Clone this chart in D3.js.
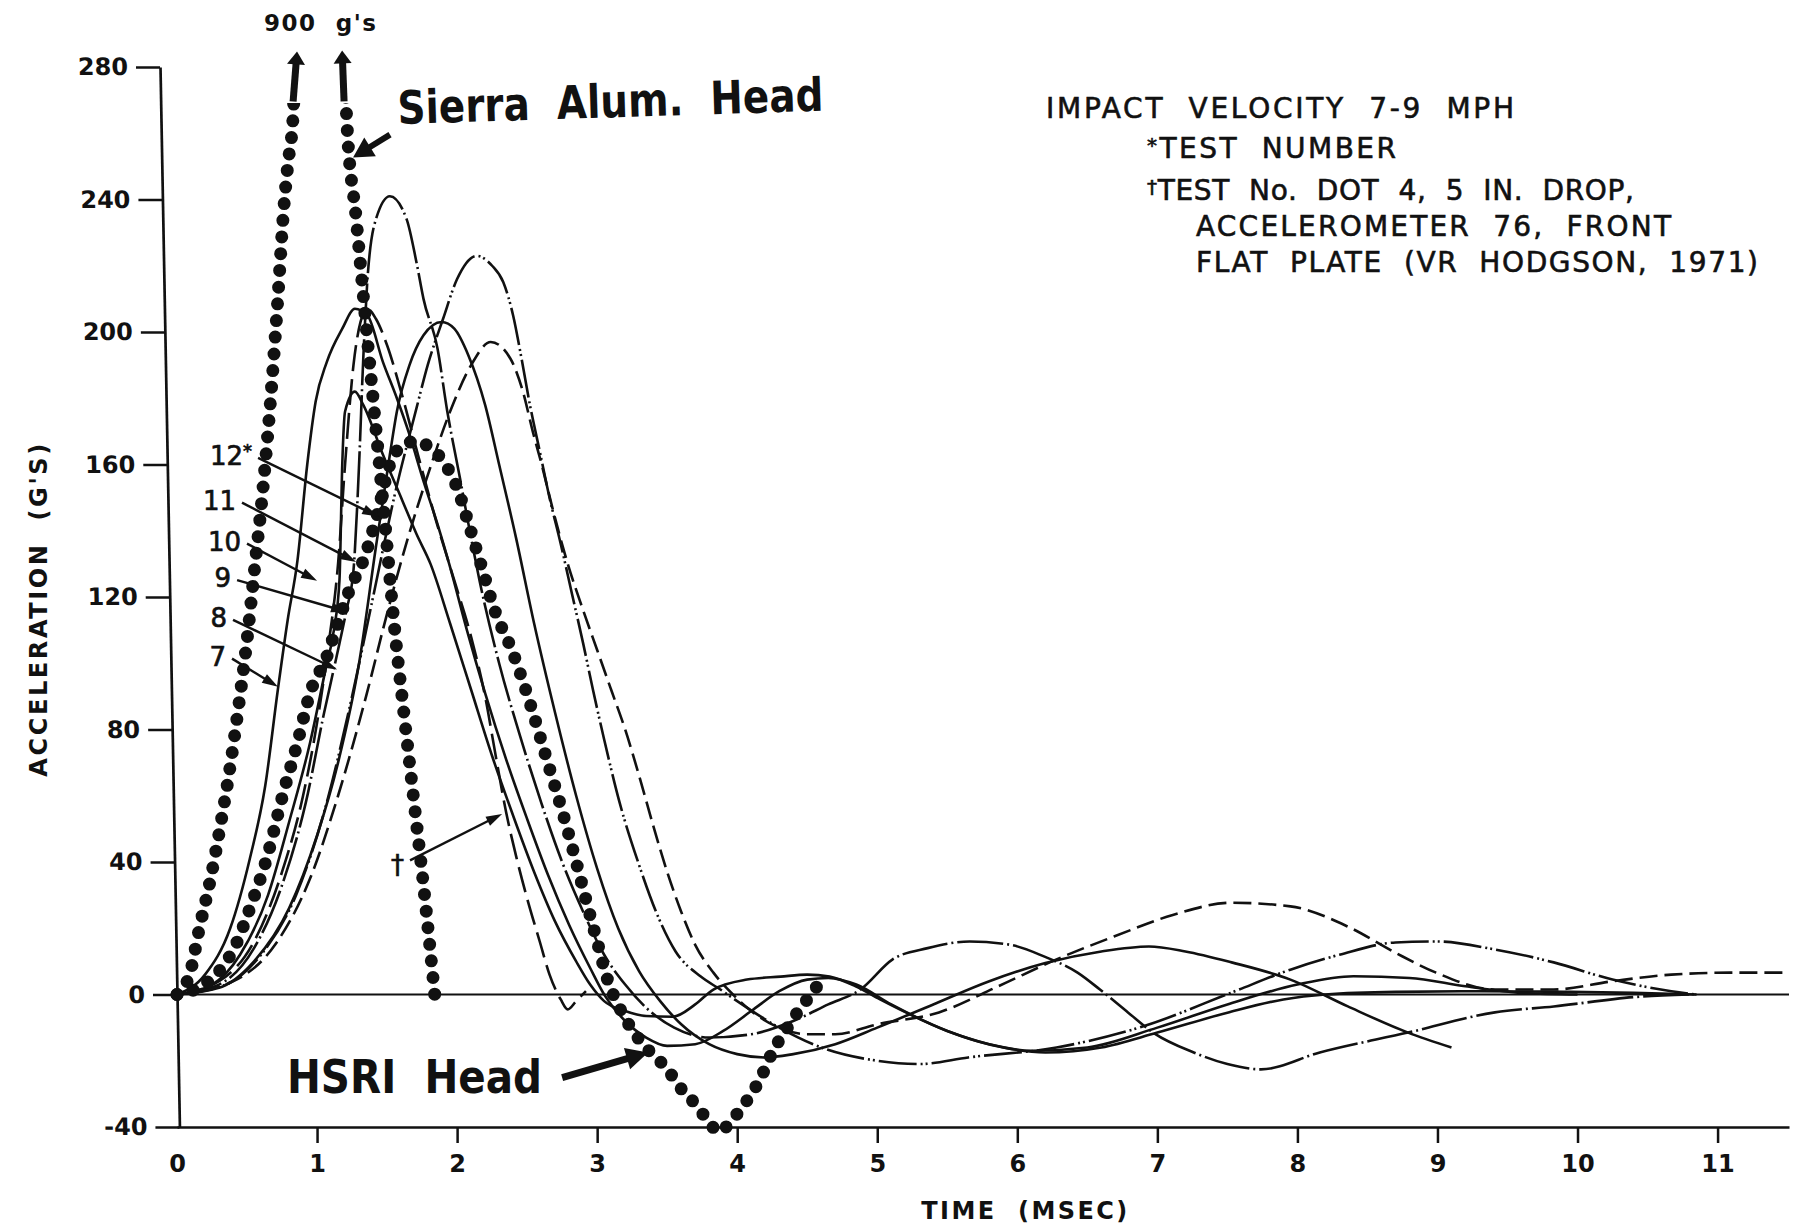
<!DOCTYPE html>
<html>
<head>
<meta charset="utf-8">
<script src="https://cdn.jsdelivr.net/npm/d3@7"></script>
<style>
body { margin: 0; background: #fff; }
svg { display: block; }
text { font-family: "DejaVu Sans", sans-serif; fill: #111; white-space: pre; }
</style>
</head>
<body>
<svg id="chart" width="1798" height="1228"></svg>
<script>
// axis ticks
const yTicks = [280, 240, 200, 160, 120, 80, 40, 0, -40];
const xTicks = [0, 1, 2, 3, 4, 5, 6, 7, 8, 9, 10, 11];

// [time ms, acceleration g]
const sierraHead = [[0,0],[0.09,6],[0.16,20],[0.24,35],[0.31,51],[0.38,69],[0.44,87],[0.5,107],[0.55,127],
  [0.61,151],[0.68,186],[0.72,210],[0.76,236],[0.79,250],[0.83,266],[1.02,900],[1.21,266],[1.28,234],
  [1.35,202],[1.42,171],[1.49,140],[1.55,112],[1.62,85],[1.69,59],[1.76,33],[1.84,0]];

const hsriHead = [[0,0],[0.15,2],[0.3,7],[0.42,15],[0.52,26],[0.64,41],[0.76,61],[0.86,76],[0.95,91],
  [1.07,102],[1.14,111],[1.24,123],[1.33,131],[1.43,145],[1.52,160],[1.62,166],[1.71,167],[1.81,165],
  [1.9,161],[2.0,153],[2.09,141],[2.19,127],[2.26,117],[2.4,103],[2.52,88],[2.64,71],[2.76,54],[2.85,40],
  [2.93,27],[3.0,16],[3.07,5],[3.16,-4],[3.24,-10],[3.37,-17],[3.49,-22],[3.61,-29],[3.7,-33],[3.79,-38],
  [3.87,-41.5],[3.96,-38],[4.06,-32.6],[4.17,-25],[4.25,-17.5],[4.35,-10.6],[4.46,-3.6],[4.54,0.6],[4.62,6]];

const test7 = [[0,0],[0.2,6],[0.38,20],[0.52,41],[0.63,63],[0.72,92],[0.79,113],[0.86,131],[0.93,160],
  [0.99,179],[1.07,191],[1.18,201],[1.27,207],[1.36,205],[1.47,191],[1.57,180],[1.66,169],[1.76,155],
  [1.86,142],[1.95,129],[2.07,110],[2.2,91],[2.35,71],[2.5,53],[2.65,36],[2.8,21],[2.95,8],[3.05,0],
  [3.2,-8],[3.35,-13],[3.5,-15.5],[3.7,-15],[3.9,-11],[4.1,-5],[4.3,1],[4.5,4.5],[4.65,5],[4.85,3],
  [5.1,-3],[5.5,-11],[5.9,-16],[6.2,-17.5],[6.6,-16],[7.0,-11.5],[7.5,-5.5],[7.9,-1.5],[8.2,0],
  [8.7,0.8],[9.3,1],[9.9,0.8],[10.4,0.5],[10.85,0]];

const test8 = [[0,0],[0.25,3],[0.45,12],[0.65,30],[0.8,52],[0.95,76],[1.06,98],[1.12,110],[1.16,125],
  [1.18,160],[1.2,176],[1.27,182],[1.33,178],[1.47,163],[1.61,149],[1.71,139],[1.81,130],[1.95,112],
  [2.1,92],[2.25,72],[2.4,54],[2.55,37],[2.7,22],[2.85,10],[2.95,3],[3.05,-2],[3.2,-5],[3.35,-6.5],
  [3.54,-6.7],[3.7,-3],[3.83,1.5],[4.07,4.5],[4.31,5.4],[4.5,6],[4.66,5.4],[4.85,2.4],[5.02,-1.5],
  [5.16,-4.5],[5.5,-11],[5.8,-15],[6.1,-17],[6.5,-16],[7.0,-10],[7.5,-3],[8.0,3],[8.4,5.5],[8.8,5],
  [9.2,2.5],[9.6,0.5],[10.0,0]];

const test9 = [[0,0],[0.3,3],[0.55,14],[0.75,33],[0.92,58],[1.05,85],[1.16,106],[1.21,116],[1.26,128],
  [1.3,160],[1.33,192],[1.36,216],[1.42,234],[1.52,241],[1.64,234],[1.71,221],[1.76,210],[1.86,195],
  [1.93,176],[2.02,156],[2.09,140],[2.16,125],[2.3,100],[2.45,78],[2.6,58],[2.75,40],[2.9,25],[3.05,12],
  [3.2,3],[3.35,-4],[3.55,-10],[3.8,-13],[4.1,-12],[4.4,-8],[4.65,-3],[4.88,1.5],[5.11,10.6],[5.36,14],
  [5.66,16],[5.95,15],[6.19,11.5],[6.43,6.6],[6.59,1.5],[6.79,-5.4],[6.97,-11.5],[7.26,-17.5],[7.5,-21],
  [7.74,-22.6],[8.16,-17.5],[8.79,-11.5],[9.41,-5.4],[9.83,-3.6],[10.46,-0.6],[10.8,0]];

const test10 = [[0,0],[0.3,2],[0.55,10],[0.8,26],[1.0,48],[1.15,70],[1.3,100],[1.42,135],[1.52,163],
  [1.57,176],[1.66,190],[1.76,199],[1.89,203],[1.98,201],[2.08,193],[2.2,178],[2.3,160],[2.42,138],
  [2.55,112],[2.7,85],[2.85,60],[3.0,38],[3.15,20],[3.3,7],[3.45,-2],[3.6,-9],[3.8,-15],[4.0,-18],
  [4.2,-19],[4.4,-18],[4.7,-15],[5.0,-10],[5.4,-3],[5.8,4],[6.2,9.5],[6.6,13],[6.94,14.5],[7.2,13],
  [7.53,9.7],[7.95,4.5],[8.36,-3.6],[8.79,-11.5],[9.1,-16]];

const test11 = [[0,0],[0.35,3],[0.6,12],[0.85,30],[1.05,55],[1.25,90],[1.4,120],[1.55,150],[1.71,177],
  [1.79,190],[1.9,204],[2.0,216],[2.14,223],[2.25,220],[2.33,215],[2.4,205],[2.46,192],[2.52,178],
  [2.59,164],[2.66,150],[2.74,136],[2.82,121],[2.9,106],[2.97,92],[3.05,77],[3.16,58],[3.3,39],
  [3.43,24],[3.56,13],[3.74,5.4],[3.88,1.5],[4.0,-2],[4.3,-10],[4.6,-16],[5.0,-20],[5.3,-21],
  [5.65,-19],[6.28,-16],[6.9,-9.6],[7.53,0.6],[7.95,7.5],[8.3,12],[8.7,15.7],[9.0,16],[9.41,13.6],
  [9.83,9.7],[10.25,4.5],[10.67,1],[10.85,0]];

const test12 = [[0,0],[0.4,4],[0.7,15],[0.95,35],[1.15,60],[1.35,90],[1.5,115],[1.65,138],[1.8,158],
  [1.95,176],[2.1,190],[2.24,197],[2.38,192],[2.47,182],[2.54,170],[2.61,159],[2.68,147],[2.79,130],
  [2.9,116],[3.0,104],[3.1,92],[3.2,80],[3.3,66],[3.4,51],[3.5,37],[3.6,25],[3.7,15],[3.83,6.6],
  [3.97,0],[4.1,-5],[4.3,-10],[4.5,-12],[4.7,-12],[5.0,-9],[5.44,-5.4],[5.86,2.4],[6.28,10.6],[6.69,17.5],
  [7.11,24],[7.53,27.7],[7.95,26.6],[8.36,20.5],[8.7,12.6],[8.99,6.6],[9.41,1.5],[9.83,1.5],[10.25,4],
  [10.67,6],[11.09,6.6],[11.5,6.6]];

const dotTest = [[0,0],[0.3,4],[0.55,16],[0.75,37],[0.9,60],[1.0,82],[1.08,105],[1.15,130],[1.2,160],
  [1.26,190],[1.31,203],[1.36,207],[1.42,204],[1.5,196],[1.6,182],[1.72,163],[1.85,143],[1.98,125],
  [2.1,108],[2.2,90],[2.28,71],[2.35,55],[2.42,42],[2.5,29],[2.59,16],[2.66,6],[2.74,-1.5],[2.79,-4.5],
  [2.85,-2],[2.92,1]];

const series = [
  { name: "7", data: test7, style: "solid" },
  { name: "8", data: test8, style: "solid" },
  { name: "9", data: test9, style: "dashDot" },
  { name: "10", data: test10, style: "solid" },
  { name: "11", data: test11, style: "dashDotDot" },
  { name: "12", data: test12, style: "dashed" },
  { name: "DOT 4", data: dotTest, style: "longDash" },
  { name: "HSRI Head", data: hsriHead, style: "bigDot" },
  { name: "Sierra Alum. Head", data: sierraHead, style: "bigDot", clipAt: 267 }
];

const styles = {
  solid: { w: 2.6, dash: null },
  dashed: { w: 2.6, dash: "18,7" },
  longDash: { w: 2.6, dash: "26,8" },
  dashDot: { w: 2.6, dash: "46,4,2,4" },
  dashDotDot: { w: 2.6, dash: "38,4,2,3,2,4" },
  bigDot: { w: 13, dash: "0,16.7" }
};

// label arrows (tail -> tip, in data units)
const labelArrows = [
  { label: "12", sup: "*", from: [0.579, 162.0], to: [1.436, 144.3], dy: 7 },
  { label: "11", from: [0.464, 148.5], to: [1.279, 130.6], dy: 7 },
  { label: "10", from: [0.5, 136.1], to: [1.0, 124.9], dy: 7 },
  { label: "9", from: [0.429, 125.1], to: [1.214, 115.5], dy: 7 },
  { label: "8", from: [0.4, 113.1], to: [1.143, 98.1], dy: 7 },
  { label: "7", from: [0.393, 101.4], to: [0.721, 92.9], dy: 7 },
  { label: "†", from: [1.664, 40.5], to: [2.321, 54.5], dy: 14 }
];

const bigArrows = [
  { from: [1.521, 259.6], to: [1.257, 252.7], w: 6, hl: 20, hw: 11 },
  { from: [2.75, -25.1], to: [3.364, -17.5], w: 7, hl: 22, hw: 11 },
  { from: [0.829, 269.6], to: [0.857, 284.7], w: 7, hl: 13, hw: 9 },
  { from: [1.193, 269.6], to: [1.179, 285.0], w: 7, hl: 13, hw: 9 }
];

const notes = [
  { mark: "", text: "IMPACT  VELOCITY  7-9  MPH" },
  { mark: "*", text: "TEST  NUMBER" },
  { mark: "†", text: "TEST  No.  DOT  4,  5  IN.  DROP," },
  { mark: "", text: "ACCELEROMETER  76,  FRONT" },
  { mark: "", text: "FLAT  PLATE  (VR  HODGSON,  1971)" }
];
const noteLayout = [[1046, 118, 468], [1147, 158, 249], [1147, 200, 487], [1196, 236, 475], [1196, 272, 562]];

const svg = d3.select("#chart");
const x = d3.scaleLinear().domain([0, 11.51]).range([177, 1789]);
const y = d3.scaleLinear().domain([-40, 280]).range([1127, 67]);

// y axis: the scanned axis leans slightly, so skew the axis group
const lean = Math.atan((177 - 160) / (y(0) - y(280))) * 180 / Math.PI;
const x0 = 177 - y(0) * Math.tan(lean * Math.PI / 180);
const yAxis = svg.append("g")
  .attr("transform", "translate(" + x0 + ",0) skewX(" + lean + ")")
  .call(d3.axisLeft(y).tickValues(yTicks).tickSize(24).tickPadding(8).tickSizeOuter(0)
    .tickFormat(d => String(d)));
yAxis.select(".domain").attr("stroke", "#111").attr("stroke-width", 2.7);
yAxis.selectAll(".tick line").attr("stroke", "#111").attr("stroke-width", 2.7);
yAxis.selectAll(".tick text")
  .attr("fill", "#111")
  .style("font-size", "24px").style("font-weight", "bold")
  .style("font-family", "\"DejaVu Sans\", sans-serif");

// x axis
const xAxis = svg.append("g")
  .attr("transform", "translate(0," + y(-40) + ")")
  .call(d3.axisBottom(x).tickValues(xTicks).tickSize(16).tickPadding(12).tickSizeOuter(0)
    .tickFormat(d => String(d)));
xAxis.select(".domain").attr("stroke", "#111").attr("stroke-width", 2.7);
xAxis.selectAll(".tick line").attr("stroke", "#111").attr("stroke-width", 2.5)
  .filter(d => d === 0).remove();
xAxis.selectAll(".tick text")
  .attr("fill", "#111")
  .style("font-size", "24px").style("font-weight", "bold")
  .style("font-family", "\"DejaVu Sans\", sans-serif");

// zero line
svg.append("line")
  .attr("x1", x(0)).attr("x2", x(11.51))
  .attr("y1", y(0)).attr("y2", y(0))
  .attr("stroke", "#111").attr("stroke-width", 2.2);

// axis titles
svg.append("text")
  .attr("x", x(6.05)).attr("y", 1219)
  .attr("text-anchor", "middle")
  .attr("textLength", 206).attr("lengthAdjust", "spacing")
  .style("font-size", "24px").style("font-weight", "bold")
  .text("TIME  (MSEC)");

svg.append("text")
  .attr("transform", "translate(47," + y(116) + ") rotate(-90)")
  .attr("text-anchor", "middle")
  .attr("textLength", 333).attr("lengthAdjust", "spacing")
  .style("font-size", "24px").style("font-weight", "bold")
  .text("ACCELERATION  (G'S)");

// curves
const line = d3.line()
  .x(d => x(d[0]))
  .y(d => y(d[1]))
  .curve(d3.curveMonotoneX);

const defs = svg.append("defs");
defs.append("clipPath").attr("id", "clipTop")
  .append("rect")
  .attr("x", 0).attr("y", y(267) - 7)
  .attr("width", 1798).attr("height", 1228);

const curves = svg.append("g");
curves.selectAll("path")
  .data(series)
  .join("path")
  .attr("d", d => line(d.data))
  .attr("fill", "none")
  .attr("stroke", "#111")
  .attr("stroke-width", d => styles[d.style].w)
  .attr("stroke-dasharray", d => styles[d.style].dash)
  .attr("stroke-linecap", d => d.style === "bigDot" ? "round" : "butt")
  .attr("stroke-linejoin", "round")
  .attr("clip-path", d => d.clipAt ? "url(#clipTop)" : null);

// arrows
function arrow(g, p1, p2, w, hl, hw) {
  const x1 = x(p1[0]), y1 = y(p1[1]), x2 = x(p2[0]), y2 = y(p2[1]);
  const dx = x2 - x1, dy = y2 - y1, L = Math.hypot(dx, dy);
  const ux = dx / L, uy = dy / L, px = -uy, py = ux;
  const bx = x2 - ux * hl, by = y2 - uy * hl;
  g.append("line")
    .attr("x1", x1).attr("y1", y1)
    .attr("x2", bx + ux * 2).attr("y2", by + uy * 2)
    .attr("stroke", "#111").attr("stroke-width", w);
  g.append("path")
    .attr("d", "M" + x2 + "," + y2 + "L" + (bx + px * hw) + "," + (by + py * hw) +
      "L" + (bx - px * hw) + "," + (by - py * hw) + "Z")
    .attr("fill", "#111");
}

const ann = svg.append("g");
labelArrows.forEach(a => {
  arrow(ann, a.from, a.to, 2.4, 16, 5);
  const t = ann.append("text")
    .attr("x", x(a.from[0]) - 6)
    .attr("y", y(a.from[1]) + a.dy)
    .attr("text-anchor", "end")
    .attr("stroke", "#111").attr("stroke-width", 0.7)
    .style("font-size", "26px");
  t.append("tspan").text(a.label);
  if (a.sup) t.append("tspan").attr("dy", -8).style("font-size", "18px").text(a.sup);
});
bigArrows.forEach(a => arrow(ann, a.from, a.to, a.w, a.hl, a.hw));

// big labels
svg.append("text")
  .attr("x", 264).attr("y", 31)
  .attr("textLength", 112).attr("lengthAdjust", "spacing")
  .style("font-size", "23px").style("font-weight", "bold")
  .text("900  g's");

svg.append("text")
  .attr("x", 398).attr("y", 124)
  .attr("transform", "rotate(-1.8,398,124)")
  .attr("textLength", 426).attr("lengthAdjust", "spacingAndGlyphs")
  .style("font-size", "46px").style("font-weight", "bold")
  .text("Sierra  Alum.  Head");

svg.append("text")
  .attr("x", 287).attr("y", 1093)
  .attr("textLength", 255).attr("lengthAdjust", "spacingAndGlyphs")
  .style("font-size", "47px").style("font-weight", "bold")
  .text("HSRI  Head");

// notes block
notes.forEach((n, i) => {
  const [nx, ny, len] = noteLayout[i];
  const t = svg.append("text")
    .attr("x", nx).attr("y", ny)
    .attr("textLength", len).attr("lengthAdjust", "spacing")
    .attr("stroke", "#111").attr("stroke-width", 0.6)
    .style("font-size", "28px");
  if (n.mark) t.append("tspan").attr("dy", -6).style("font-size", "20px").text(n.mark);
  t.append("tspan").attr("dy", n.mark ? 6 : 0).text(n.text);
});
</script>
</body>
</html>
